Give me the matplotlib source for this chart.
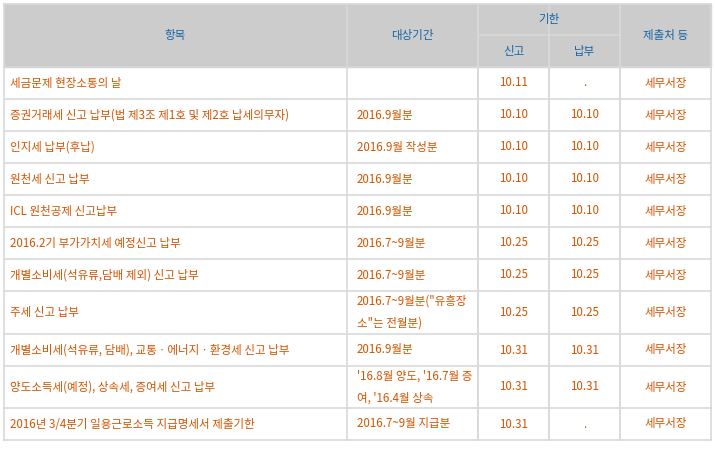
import matplotlib.pyplot as plt
from matplotlib.patches import Rectangle

plt.rcParams["font.family"] = "Noto Sans CJK KR"

items = ["세금문제 현장소통의 날",
         "증권거래세 신고 납부(법 제3조 제1호 및 제2호 납세의무자)",
         "인지세 납부(후납)",
         "원천세 신고 납부",
         "ICL 원천공제 신고납부",
         "2016.2기 부가가치세 예정신고 납부",
         "개별소비세(석유류,담배 제외) 신고 납부",
         "주세 신고 납부",
         "개별소비세(석유류, 담배), 교통ㆍ에너지ㆍ환경세 신고 납부",
         "양도소득세(예정), 상속세, 증여세 신고 납부",
         "2016년 3/4분기 일용근로소득 지급명세서 제출기한"]
periods = ["", "2016.9월분", "2016.9월 작성분", "2016.9월분", "2016.9월분",
           "2016.7~9월분", "2016.7~9월분", "2016.7~9월분(\"유흥장\n소\"는 전월분)",
           "2016.9월분", "'16.8월 양도, '16.7월 증\n여, '16.4월 상속", "2016.7~9월 지급분"]
report = ["10.11", "10.10", "10.10", "10.10", "10.10", "10.25", "10.25", "10.25",
          "10.31", "10.31", "10.31"]
payment = [".", "10.10", "10.10", "10.10", "10.10", "10.25", "10.25", "10.25",
           "10.31", "10.31", "."]
office = ["세무서장"] * 11

# layout in pixels
cols = [4, 347, 478, 549, 620, 711]
rows = [67, 99, 131, 163, 195, 227, 259, 291, 334, 366, 408, 440]
top, mid = 4, 35
orange = "#d35400"
blue = "#1565a8"
line = "#d9d9d9"
fs = 8.3

fig = plt.figure(figsize=(7.15, 4.5), dpi=100)
ax = fig.add_axes([0, 0, 1, 1])
ax.set_xlim(0, 715)
ax.set_ylim(450, 0)
ax.axis("off")

ax.add_patch(Rectangle((cols[0], top), cols[-1] - cols[0], rows[0] - top, color="#cccccc", zorder=0))

def hline(y, x0, x1):
    ax.plot([x0, x1], [y, y], color=line, lw=1.2)

def vline(x, y0, y1):
    ax.plot([x, x], [y0, y1], color=line, lw=1.2)

hline(top, cols[0], cols[-1])
hline(mid, cols[2], cols[4])
for y in rows:
    hline(y, cols[0], cols[-1])
for x in cols:
    vline(x, top, rows[-1])
vline(cols[3], mid, rows[-1])
for x in [cols[2], cols[4]]:
    vline(x, top, rows[-1])
ax.lines[-5 - len(rows)].remove() if False else None

# header text
ax.text((cols[0] + cols[1]) / 2, (top + rows[0]) / 2, "항목", color=blue, fontsize=fs, ha="center", va="center")
ax.text((cols[1] + cols[2]) / 2, (top + rows[0]) / 2, "대상기간", color=blue, fontsize=fs, ha="center", va="center")
ax.text((cols[2] + cols[4]) / 2, (top + mid) / 2, "기한", color=blue, fontsize=fs, ha="center", va="center")
ax.text((cols[2] + cols[3]) / 2, (mid + rows[0]) / 2, "신고", color=blue, fontsize=fs, ha="center", va="center")
ax.text((cols[3] + cols[4]) / 2, (mid + rows[0]) / 2, "납부", color=blue, fontsize=fs, ha="center", va="center")
ax.text((cols[4] + cols[5]) / 2, (top + rows[0]) / 2, "제출처 등", color=blue, fontsize=fs, ha="center", va="center")

for i in range(len(items)):
    yc = (rows[i] + rows[i + 1]) / 2
    ax.text(cols[0] + 6, yc, items[i], color=orange, fontsize=fs, va="center")
    ax.text(cols[1] + 10, yc, periods[i], color=orange, fontsize=fs, va="center", linespacing=1.9)
    ax.text((cols[2] + cols[3]) / 2, yc, report[i], color=orange, fontsize=fs, ha="center", va="center")
    ax.text((cols[3] + cols[4]) / 2, yc, payment[i], color=orange, fontsize=fs, ha="center", va="center")
    ax.text((cols[4] + cols[5]) / 2, yc, office[i], color=orange, fontsize=fs, ha="center", va="center")

fig.savefig("out.png", dpi=100)
